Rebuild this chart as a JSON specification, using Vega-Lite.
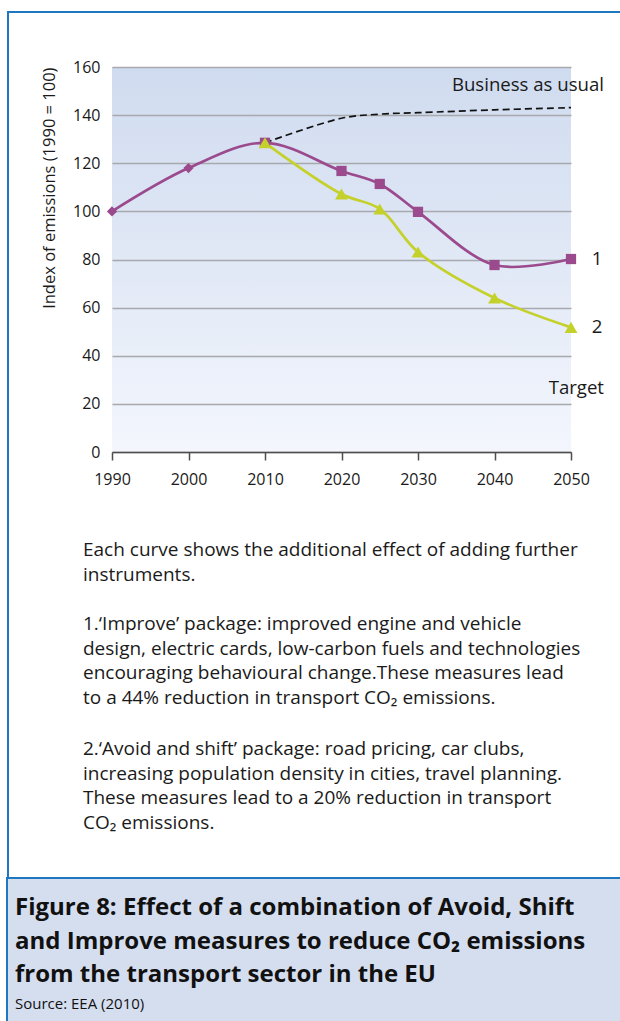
{
  "$schema": "https://vega.github.io/schema/vega-lite/v6.json",
  "background": "white",
  "padding": {"left": 6, "top": 11, "right": 0, "bottom": 0},
  "config": {
    "font": "Open Sans",
    "view": {"stroke": null},
    "concat": {"spacing": 0}
  },
  "spacing": 0,
  "vconcat": [
    {
      "width": 650, "height": 2,
      "view": {"fill": "#1f77bf", "stroke": null},
      "data": {"values": []},
      "mark": "point"
    },
    {
      "spacing": 32,
      "hconcat": [
        {
          "width": 2, "height": 864,
          "view": {"fill": "#1f77bf", "stroke": null},
          "data": {"values": []},
          "mark": "point"
        },
        {
          "spacing": 0,
          "vconcat": [
            {
              "width": 459, "height": 46,
              "view": {"fill": "white", "stroke": null},
              "data": {"values": []},
              "mark": "point"
            },
            {
              "spacing": 54,
              "vconcat": [
                {
                  "width": 459, "height": 385,
                  "view": {"stroke": null, "fill": {"gradient": "linear", "x1": 0, "y1": 0, "x2": 0, "y2": 1, "stops": [{"offset": 0, "color": "#cfdbef"}, {"offset": 1, "color": "#f3f6fd"}]}},
                  "data": {"values": [
                    {"series": "1", "year": 1990, "value": 100, "marker": "Historical"},
                    {"series": "1", "year": 2000, "value": 118, "marker": "Historical"},
                    {"series": "1", "year": 2010, "value": 128.5, "marker": "Improve"},
                    {"series": "1", "year": 2020, "value": 116.8, "marker": "Improve"},
                    {"series": "1", "year": 2025, "value": 111.4, "marker": "Improve"},
                    {"series": "1", "year": 2030, "value": 99.8, "marker": "Improve"},
                    {"series": "1", "year": 2040, "value": 77.7, "marker": "Improve"},
                    {"series": "1", "year": 2050, "value": 80.2, "marker": "Improve"},
                    {"series": "2", "year": 2010, "value": 128.5, "marker": "Avoid and shift"},
                    {"series": "2", "year": 2020, "value": 107.2, "marker": "Avoid and shift"},
                    {"series": "2", "year": 2025, "value": 101, "marker": "Avoid and shift"},
                    {"series": "2", "year": 2030, "value": 83.1, "marker": "Avoid and shift"},
                    {"series": "2", "year": 2040, "value": 64, "marker": "Avoid and shift"},
                    {"series": "2", "year": 2050, "value": 51.8, "marker": "Avoid and shift"},
                    {"series": "Business as usual", "year": 2010, "value": 128.5},
                    {"series": "Business as usual", "year": 2020, "value": 138.7},
                    {"series": "Business as usual", "year": 2025, "value": 140.4},
                    {"series": "Business as usual", "year": 2030, "value": 141},
                    {"series": "Business as usual", "year": 2040, "value": 142.2},
                    {"series": "Business as usual", "year": 2050, "value": 143.1}
                  ]},
                  "encoding": {
                    "x": {
                      "field": "year", "type": "quantitative",
                      "scale": {"domain": [1990, 2050], "nice": false, "zero": false},
                      "axis": {
                        "values": [1990, 2000, 2010, 2020, 2030, 2040, 2050],
                        "format": "d", "grid": false, "title": null,
                        "domainColor": "#4d4d4d", "domainWidth": 1.5,
                        "tickColor": "#4d4d4d", "tickWidth": 1.5, "tickSize": 8,
                        "labelFontSize": 16, "labelColor": "#1a1a1a", "labelPadding": 11, "labelFlush": false
                      }
                    },
                    "y": {
                      "field": "value", "type": "quantitative",
                      "scale": {"domain": [0, 160], "nice": false},
                      "axis": {
                        "values": [0, 20, 40, 60, 80, 100, 120, 140, 160],
                        "grid": true, "gridColor": "#a7a9ac", "gridWidth": 1.5,
                        "domain": false, "ticks": false,
                        "labelFontSize": 16, "labelColor": "#1a1a1a", "labelPadding": 12,
                        "title": "Index of emissions (1990 = 100)",
                        "titleFontSize": 16.5, "titleFontWeight": "normal", "titleColor": "#1a1a1a",
                        "titleAnchor": "end", "titlePadding": 15
                      }
                    }
                  },
                  "layer": [
                    {
                      "transform": [{"filter": "datum.series === 'Business as usual'"}],
                      "mark": {"type": "line", "interpolate": "catmull-rom", "color": "#111111", "strokeWidth": 1.7, "strokeDash": [7, 4]}
                    },
                    {
                      "transform": [{"filter": "datum.series !== 'Business as usual'"}],
                      "mark": {"type": "line", "interpolate": "catmull-rom", "strokeWidth": 2.7},
                      "encoding": {
                        "color": {"field": "series", "type": "nominal", "scale": {"domain": ["1", "2"], "range": ["#9b4a8d", "#c5d12b"]}, "legend": null}
                      }
                    },
                    {
                      "transform": [{"filter": "datum.series === '1'"}],
                      "mark": {"type": "point", "filled": true, "opacity": 1, "size": 105},
                      "encoding": {
                        "color": {"field": "series", "type": "nominal", "legend": null},
                        "shape": {"field": "marker", "type": "nominal", "scale": {"domain": ["Historical", "Improve"], "range": ["diamond", "square"]}, "legend": null}
                      }
                    },
                    {
                      "transform": [{"filter": "datum.series === '2'"}],
                      "mark": {"type": "point", "filled": true, "opacity": 1, "size": 165, "shape": "triangle-up"},
                      "encoding": {
                        "color": {"field": "series", "type": "nominal", "legend": null}
                      }
                    },
                    {
                      "data": {"values": [
                        {"label": "Business as usual", "year": 2050, "value": 152.5},
                        {"label": "Target", "year": 2050, "value": 26.6}
                      ]},
                      "mark": {"type": "text", "align": "right", "dx": 33, "fontSize": 18.6, "color": "#1a1a1a"},
                      "encoding": {"text": {"field": "label"}}
                    },
                    {
                      "data": {"values": [
                        {"label": "1", "year": 2050, "value": 80.2},
                        {"label": "2", "year": 2050, "value": 51.8}
                      ]},
                      "mark": {"type": "text", "align": "center", "dx": 26, "fontSize": 18.6, "color": "#1a1a1a"},
                      "encoding": {"text": {"field": "label"}}
                    }
                  ]
                },
                {
                  "width": 459, "height": 300,
                  "data": {"values": [{"note": "description"}]},
                  "encoding": {"x": {"value": 0}, "y": {"value": 0}},
                  "layer": [
                    {
                      "mark": {
                        "type": "text", "align": "left", "baseline": "top",
                        "fontSize": 19, "lineHeight": 24.7, "dx": -29, "dy": 0, "color": "#1a1a1a",
                        "text": [
                          "Each curve shows the additional effect of adding further",
                          "instruments."
                        ]
                      }
                    },
                    {
                      "mark": {
                        "type": "text", "align": "left", "baseline": "top",
                        "fontSize": 19, "lineHeight": 24.7, "dx": -29, "dy": 74, "color": "#1a1a1a",
                        "text": [
                          "1.‘Improve’ package: improved engine and vehicle",
                          "design, electric cards, low-carbon fuels and technologies",
                          "encouraging behavioural change.These measures lead",
                          "to a 44% reduction in transport CO₂ emissions."
                        ]
                      }
                    },
                    {
                      "mark": {
                        "type": "text", "align": "left", "baseline": "top",
                        "fontSize": 19, "lineHeight": 24.7, "dx": -29, "dy": 199, "color": "#1a1a1a",
                        "text": [
                          "2.‘Avoid and shift’ package: road pricing, car clubs,",
                          "increasing population density in cities, travel planning.",
                          "These measures lead to a 20% reduction in transport",
                          "CO₂ emissions."
                        ]
                      }
                    }
                  ]
                }
              ]
            }
          ]
        }
      ]
    },
    {
      "width": 650, "height": 160,
      "view": {"fill": "#d5deef", "stroke": "#1f77bf", "strokeWidth": 2},
      "data": {"values": [{"note": "caption"}]},
      "layer": [
        {
          "mark": {
            "type": "text", "align": "left", "baseline": "top",
            "fontSize": 24, "fontWeight": "bold", "lineHeight": 33.5, "color": "#111111",
            "dx": 8, "dy": 18,
            "text": [
              "Figure 8: Effect of a combination of Avoid, Shift",
              "and Improve measures to reduce CO₂ emissions",
              "from the transport sector in the EU"
            ]
          },
          "encoding": {"x": {"value": 0}, "y": {"value": 0}}
        },
        {
          "mark": {
            "type": "text", "align": "left", "baseline": "top",
            "fontSize": 15, "color": "#111111", "dx": 8, "dy": 119,
            "text": "Source: EEA (2010)"
          },
          "encoding": {"x": {"value": 0}, "y": {"value": 0}}
        }
      ]
    }
  ]
}
